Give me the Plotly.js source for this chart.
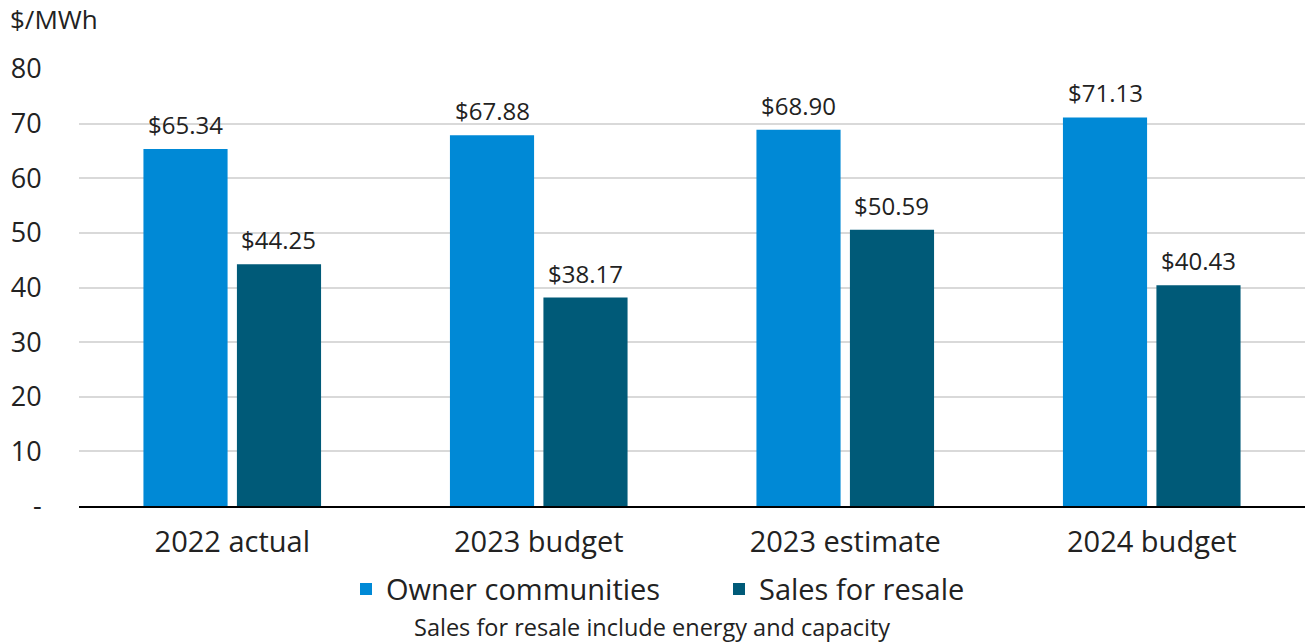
<!DOCTYPE html>
<html><head><meta charset="utf-8">
<script src="https://cdn.plot.ly/plotly-3.0.1.min.js"></script>
<style>body{margin:0;padding:0;background:#fff}#chart{width:1308px;height:643px}</style>
</head><body><div id="chart"></div>
<script>
var categories = ["2022 actual", "2023 budget", "2023 estimate", "2024 budget"];
var ownerCommunities = [65.34, 67.88, 68.90, 71.13];
var salesForResale = [44.25, 38.17, 50.59, 40.43];
var tickVals = [0, 10, 20, 30, 40, 50, 60, 70, 80];
var tickText = ["-", "10", "20", "30", "40", "50", "60", "70", "80"];
var fmt = function(v){ return "$" + v.toFixed(2); };
var FONT = "'Open Sans', sans-serif";

var traces = [
  {type:"bar", name:"Owner communities", x:categories, y:ownerCommunities,
   marker:{color:"#0089D6"}, hoverinfo:"x+y"},
  {type:"bar", name:"Sales for resale", x:categories, y:salesForResale,
   marker:{color:"#005A78"}, hoverinfo:"x+y"}
];

var labelAnns = [];
function addLabels(vals, xshift){
  vals.forEach(function(v, i){
    labelAnns.push({x:categories[i], y:v, xref:"x", yref:"y", text:fmt(v),
      xshift:xshift, yshift:6, yanchor:"bottom", xanchor:"center", showarrow:false,
      font:{size:24, color:"#222"}});
  });
}
addLabels(ownerCommunities, -46.5);
addLabels(salesForResale, 46.5);

var layout = {
  width:1308, height:643,
  margin:{l:79, r:3, t:69, b:137},
  font:{family:FONT, color:"#222"},
  paper_bgcolor:"#fff", plot_bgcolor:"#fff",
  barmode:"group", bargap:0.39, bargroupgap:0.1,
  xaxis:{tickfont:{size:29}, showline:true, linecolor:"#000", linewidth:2,
         ticks:"outside", ticklen:9, tickcolor:"rgba(0,0,0,0)"},
  yaxis:{range:[0,80], tickvals:tickVals, ticktext:tickText, tickfont:{size:27},
         showgrid:true, gridcolor:"#d9d9d9", gridwidth:2, zeroline:false,
         ticks:"outside", ticklen:31, tickcolor:"rgba(0,0,0,0)"},
  showlegend:true,
  legend:{orientation:"h", x:(346-79)/1226, xanchor:"left", y:-0.19, yanchor:"middle",
          font:{size:29}, itemwidth:20, entrywidth:328, entrywidthmode:"pixels", traceorder:"normal"},
  annotations:labelAnns.concat([
    {text:"$/MWh", xref:"paper", yref:"paper", x:-0.0579, y:1.115, xanchor:"left", yanchor:"middle",
     showarrow:false, font:{size:26}},
    {text:"Sales for resale include energy and capacity", xref:"paper", yref:"paper",
     x:0.467, y:-0.278, xanchor:"center", yanchor:"middle", showarrow:false, font:{size:23.5}}
  ])
};
Plotly.newPlot("chart", traces, layout, {displayModeBar:false});
</script></body></html>
